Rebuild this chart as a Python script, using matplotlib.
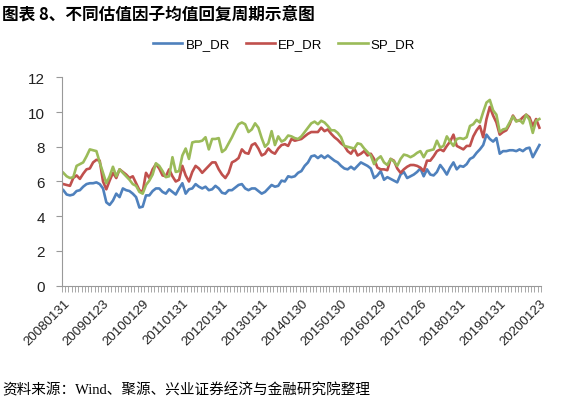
import numpy as np
import pandas as pd
import matplotlib
matplotlib.use("Agg")
import matplotlib.pyplot as plt

plt.rcParams['font.family'] = ['Liberation Sans', 'Noto Sans CJK SC', 'DejaVu Sans']

# monthly observations, 2008-01 .. 2020-01
months = pd.period_range("2008-01", "2020-01", freq="M")

bp_dr = [
    5.5, 5.25, 5.2, 5.25, 5.45, 5.5, 5.7, 5.85, 5.9, 5.9, 5.95, 5.85,
    5.6, 4.8, 4.65, 4.9, 5.3, 5.1, 5.6, 5.5, 5.45, 5.3, 5.1, 4.5,
    4.55, 5.2, 5.2, 5.45, 5.6, 5.6, 5.4, 5.3, 5.55, 5.4, 5.25, 5.6,
    5.9, 5.3, 5.55, 5.6, 5.85, 5.7, 5.6, 5.7, 5.5, 5.55, 5.75, 5.6,
    5.35, 5.3, 5.5, 5.5, 5.65, 5.8, 5.85, 5.6, 5.5, 5.6, 5.6, 5.45,
    5.3, 5.4, 5.6, 5.8, 5.7, 5.75, 6.05, 6.0, 6.3, 6.25, 6.3, 6.5,
    6.6, 6.9, 7.1, 7.45, 7.5, 7.35, 7.5, 7.35, 7.5, 7.35, 7.2, 7.1,
    6.9, 6.75, 6.7, 6.85, 6.7, 6.9, 7.1, 7.0, 6.9, 6.75, 6.2, 6.35,
    6.6, 6.1, 6.25, 6.15, 6.05, 5.95, 6.4, 6.55, 6.2, 6.3, 6.4, 6.55,
    6.75, 6.3, 6.7, 6.4, 6.35, 6.55, 6.95, 6.7, 6.4, 6.8, 7.1, 6.7,
    6.9, 6.85, 7.0, 7.3, 7.4, 7.65, 7.85, 8.1, 8.7, 8.45, 8.3, 8.5,
    7.6, 7.75, 7.75, 7.8, 7.8, 7.75, 7.85, 7.75, 7.9, 7.95, 7.4, 7.75,
    8.1,
]

ep_dr = [
    5.85, 5.8, 5.75, 6.2, 6.35, 6.15, 6.45, 6.7, 6.75, 7.1, 7.25, 7.2,
    6.0, 5.55, 6.05, 6.5, 6.2, 6.7, 6.55, 6.4, 6.2, 6.3, 5.9, 5.5,
    5.4, 6.5, 6.2, 6.7, 7.0, 6.75, 6.35, 6.3, 6.7, 6.3, 6.0, 6.1,
    6.9, 6.35, 6.0, 6.55, 6.9, 6.75, 6.5, 6.7, 6.9, 7.1, 7.1, 6.7,
    6.4, 6.2, 6.5, 7.1, 7.2, 7.35, 7.85, 7.65, 7.6, 8.1, 8.2, 7.9,
    7.5, 7.6, 7.9, 7.7, 7.6, 7.9, 8.1, 8.15, 8.05, 8.45, 8.35, 8.4,
    8.45, 8.6, 8.75, 8.85, 8.85, 8.85, 9.1, 8.9, 9.0, 8.75, 8.55, 8.4,
    8.2, 8.05, 7.75, 7.6, 7.9, 7.5, 7.6, 7.75, 7.5, 7.6, 7.3, 6.8,
    6.7, 6.7, 6.65, 7.3, 7.2, 6.75, 6.5, 6.7, 6.85, 6.95, 6.95, 6.9,
    6.8, 6.6, 7.2, 7.2, 7.45, 7.75, 7.85, 7.75, 8.05, 8.3, 8.7, 8.05,
    7.95, 7.85, 8.05, 8.05, 8.6, 8.95, 9.2, 8.55, 9.6, 10.3, 9.8, 9.4,
    8.7, 8.85, 8.95, 9.3, 9.8, 9.5, 9.5, 9.7, 9.85, 9.7, 9.2, 9.6,
    9.1,
]

sp_dr = [
    6.5, 6.3, 6.2, 6.25, 6.9, 7.0, 7.1, 7.45, 7.85, 7.8, 7.75, 7.1,
    6.5, 5.9, 6.3, 6.85, 6.3, 6.7, 6.5, 6.3, 6.1, 5.85, 5.75, 5.4,
    5.3, 5.8, 6.05, 6.4, 7.05, 6.9, 6.6, 6.25, 6.3, 7.4, 6.55, 6.6,
    7.5, 7.9, 7.3, 8.25, 8.3, 8.3, 8.35, 8.55, 7.85, 8.45, 8.45, 8.5,
    7.7, 7.85, 8.2, 8.55, 8.95, 9.3, 9.4, 9.3, 8.85, 9.0, 9.35, 9.1,
    8.5, 8.0, 8.2, 8.9, 8.1, 8.6, 8.3, 8.4, 8.65, 8.6, 8.5, 8.45,
    8.6, 8.85, 9.1, 9.35, 9.45, 9.3, 9.5, 9.4, 9.2, 8.95, 8.95, 8.8,
    8.55, 8.05, 8.0, 7.95, 7.9, 8.2, 8.15, 7.9, 7.7, 7.5, 7.0, 7.3,
    7.45, 7.1, 6.95, 7.3, 7.15, 6.9, 7.3, 7.55, 7.5, 7.4, 7.5, 7.65,
    7.75, 7.4, 7.75, 7.8, 7.85, 8.35, 7.95, 8.05, 8.6, 8.3, 8.05, 8.45,
    8.5, 8.45, 8.55, 9.2, 9.3, 9.55, 9.4, 10.0, 10.55, 10.7, 10.1, 9.85,
    8.85, 9.0, 9.05, 9.4, 9.75, 9.45, 9.55, 9.35, 9.85, 9.55, 8.8, 9.5,
    9.6,
]

tick_labels = ["20080131", "20090123", "20100129", "20110131", "20120131",
               "20130131", "20140130", "20150130", "20160129", "20170126",
               "20180131", "20190131", "20200123"]

series = [("BP_DR", bp_dr, "#4F81BD"),
          ("EP_DR", ep_dr, "#C0504D"),
          ("SP_DR", sp_dr, "#9BBB59")]

fig = plt.figure(figsize=(5.63, 4.06), dpi=100)
ax = fig.add_axes([0.1096, 0.294, 0.8514, 0.513])

x = np.arange(len(months))
for name, vals, color in series:
    ax.plot(x, vals, color=color, lw=1.9, label=name, solid_joinstyle='round')

ax.set_xlim(-0.5, len(months) - 0.5)
ax.set_ylim(0, 12)
ax.set_yticks(range(0, 13, 2))
ax.tick_params(axis='y', labelsize=11, length=4, color='#999999',
               labelcolor='#222222', pad=8)

# category boundaries as small ticks, labels once a year
ax.set_xticks(x[::12])
ax.set_xticklabels(tick_labels, rotation=45, ha='right',
                   rotation_mode='anchor', fontsize=9.5, color='#222222')
ax.set_xticks(np.arange(-0.5, len(months), 1), minor=True)
ax.tick_params(axis='x', which='major', length=0, pad=8)
ax.tick_params(axis='x', which='minor', length=4, color='#999999', width=0.6)

for side in ['top', 'right']:
    ax.spines[side].set_visible(False)
for side in ['left', 'bottom']:
    ax.spines[side].set_color('#999999')
    ax.spines[side].set_linewidth(0.8)

fig.legend(loc='center', bbox_to_anchor=(0.505, 0.889), ncol=3, frameon=False,
           fontsize=9.5, handlelength=2.2, columnspacing=1.2, handletextpad=0.25)

fig.text(0.004, 0.965, "图表 8、不同估值因子均值回复周期示意图",
         family=['Noto Sans CJK SC', 'DejaVu Sans'], fontsize=12,
         fontweight='bold', va='center', ha='left')
fig.text(0.004, 0.040, "资料来源：Wind、聚源、兴业证券经济与金融研究院整理",
         family=['Liberation Serif', 'Noto Sans CJK SC', 'DejaVu Sans'],
         fontsize=10.5, va='center', ha='left')

fig.savefig("out.png", dpi=100)
